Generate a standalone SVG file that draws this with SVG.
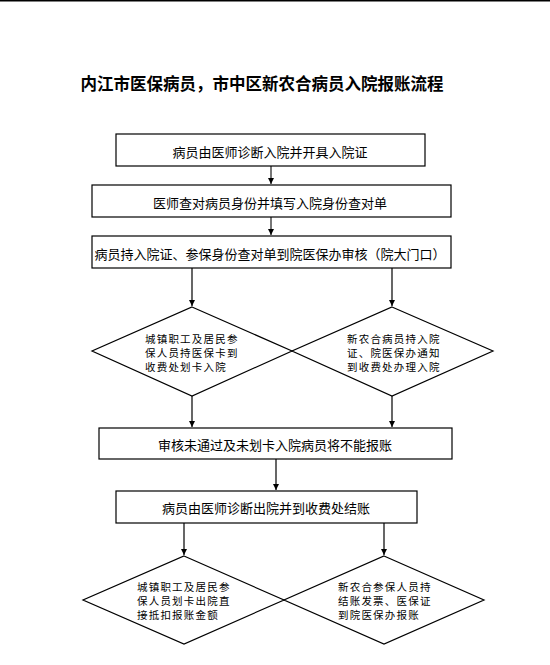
<svg xmlns="http://www.w3.org/2000/svg" width="550" height="665" viewBox="0 0 550 665">
<style>
.box{fill:#fff;stroke:#000;stroke-width:1.2}
.dia{fill:none;stroke:#000;stroke-width:1.2}
.t{font-family:"Liberation Sans","Noto Sans CJK SC",sans-serif;font-size:13px;fill:#000;text-anchor:middle;dominant-baseline:central}
.s{font-family:"Liberation Sans","Noto Sans CJK SC",sans-serif;font-size:10.5px;letter-spacing:1.2px;fill:#000;dominant-baseline:central}
.title{font-family:"Liberation Sans","Noto Sans CJK SC",sans-serif;font-size:16.5px;font-weight:bold;fill:#000;text-anchor:middle;dominant-baseline:central}
.c{fill:none;stroke:#000;stroke-width:1.2}
.g{fill:none;stroke:#555;stroke-width:1.6}
</style>
<defs>
<marker id="ah" markerWidth="8" markerHeight="8" refX="6" refY="3.5" orient="auto" markerUnits="userSpaceOnUse">
<path d="M0,0.5 L6,3.5 L0,6.5 Z" fill="#000"/>
</marker>
</defs>
<rect width="550" height="665" fill="#fff"/>
<line x1="0" y1="0.8" x2="550" y2="0.8" stroke="#000" stroke-width="1.6"/>
<text id="title" class="title" x="262" y="84">内江市医保病员，市中区新农合病员入院报账流程</text>

<g id="connectors">
<line class="g" x1="271" y1="166" x2="271" y2="184" marker-end="url(#ah)"/>
<line class="g" x1="271" y1="217" x2="271" y2="235" marker-end="url(#ah)"/>
<line class="c" x1="192" y1="268" x2="192" y2="306" marker-end="url(#ah)"/>
<line class="c" x1="392" y1="268" x2="392" y2="306" marker-end="url(#ah)"/>
<line class="c" x1="192" y1="396" x2="192" y2="427" marker-end="url(#ah)"/>
<line class="c" x1="392" y1="396" x2="392" y2="427" marker-end="url(#ah)"/>
<line class="c" x1="276" y1="459" x2="276" y2="490" marker-end="url(#ah)"/>
<line class="c" x1="184" y1="523" x2="184" y2="555" marker-end="url(#ah)"/>
<line class="c" x1="384" y1="523" x2="384" y2="555" marker-end="url(#ah)"/>
</g>

<g id="n1">
<rect class="box" x="116" y="134" width="309" height="32"/>
<text class="t" x="270" y="152">病员由医师诊断入院并开具入院证</text>
</g>
<g id="n2">
<rect class="box" x="92" y="185" width="359" height="32"/>
<text class="t" x="270" y="203">医师查对病员身份并填写入院身份查对单</text>
</g>
<g id="n3">
<rect class="box" x="92" y="236" width="359" height="32"/>
<text class="t" x="270" y="254">病员持入院证、参保身份查对单到院医保办审核（院大门口）</text>
</g>
<g id="d1">
<polygon class="dia" points="192,307 292,351 192,396 92,351"/>
<text class="s" x="145" y="339">城镇职工及居民参</text>
<text class="s" x="145" y="353">保人员持医保卡到</text>
<text class="s" x="145" y="367">收费处划卡入院</text>
</g>
<g id="d2">
<polygon class="dia" points="392,307 493,351 392,396 292,351"/>
<text class="s" x="347" y="339">新农合病员持入院</text>
<text class="s" x="347" y="353">证、院医保办通知</text>
<text class="s" x="347" y="367">到收费处办理入院</text>
</g>
<g id="n4">
<rect class="box" x="99" y="428" width="353" height="31"/>
<text class="t" x="275" y="445">审核未通过及未划卡入院病员将不能报账</text>
</g>
<g id="n5">
<rect class="box" x="116" y="491" width="301" height="32"/>
<text class="t" x="266" y="508">病员由医师诊断出院并到收费处结账</text>
</g>
<g id="d3">
<polygon class="dia" points="184,556 284,600 184,644 83,600"/>
<text class="s" x="137" y="587">城镇职工及居民参</text>
<text class="s" x="137" y="601">保人员划卡出院直</text>
<text class="s" x="137" y="615">接抵扣报账金额</text>
</g>
<g id="d4">
<polygon class="dia" points="384,556 484,600 384,644 284,600"/>
<text class="s" x="338" y="587">新农合参保人员持</text>
<text class="s" x="338" y="601">结账发票、医保证</text>
<text class="s" x="338" y="615">到院医保办报账</text>
</g>
</svg>
